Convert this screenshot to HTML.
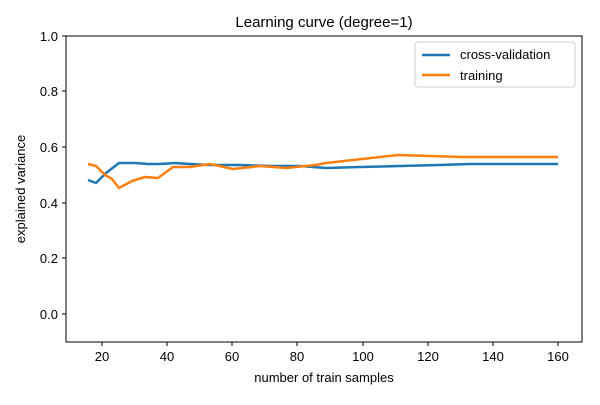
<!DOCTYPE html>
<html><head><style>body{margin:0;background:#fff}</style></head><body>
<svg width="600" height="400" xmlns="http://www.w3.org/2000/svg" font-family="Liberation Sans, DejaVu Sans, sans-serif">
<rect width="600" height="400" fill="#fff"/>
<text x="324" y="27" font-size="15" text-anchor="middle">Learning curve (degree=1)</text>
<g fill="none" stroke-width="2.5" stroke-linejoin="round">
<polyline stroke="#1f77b4" points="88,180 96,183 106,173 119,163 136,163 148,164 160,164 175,163 190,164 210,165 240,165 270,166 300,166 326,168 360,167 400,166 440,165 470,164 520,164 558,164"/>
<polyline stroke="#ff7f0e" points="88,164 96,166 105,175 112,179 119,188 132,181 145,177 158,178 173,167 190,167 210,164 233,169 260,166 286,168 316,165 326,163 362,159 398,155 430,156 463,157 510,157 558,157"/>
</g>
<rect x="66" y="36" width="516" height="306" fill="none" stroke="#000" stroke-width="1"/>
<g stroke="#000" stroke-width="1">
<line x1="102" y1="342" x2="102" y2="346"/><line x1="167" y1="342" x2="167" y2="346"/><line x1="232" y1="342" x2="232" y2="346"/><line x1="297" y1="342" x2="297" y2="346"/><line x1="363" y1="342" x2="363" y2="346"/><line x1="428" y1="342" x2="428" y2="346"/><line x1="493" y1="342" x2="493" y2="346"/><line x1="558" y1="342" x2="558" y2="346"/>
<line x1="62" y1="314" x2="66" y2="314"/><line x1="62" y1="258" x2="66" y2="258"/><line x1="62" y1="203" x2="66" y2="203"/><line x1="62" y1="147" x2="66" y2="147"/><line x1="62" y1="91" x2="66" y2="91"/><line x1="62" y1="36" x2="66" y2="36"/>
</g>
<g font-size="13" text-anchor="middle">
<text x="102" y="361">20</text><text x="167" y="361">40</text><text x="232" y="361">60</text><text x="297" y="361">80</text><text x="363" y="361">100</text><text x="428" y="361">120</text><text x="493" y="361">140</text><text x="558" y="361">160</text>
</g>
<g font-size="13" text-anchor="end">
<text x="58" y="319">0.0</text><text x="58" y="263">0.2</text><text x="58" y="208">0.4</text><text x="58" y="152">0.6</text><text x="58" y="96">0.8</text><text x="58" y="41">1.0</text>
</g>
<text x="324" y="382" font-size="13" text-anchor="middle">number of train samples</text>
<text transform="translate(25,189) rotate(-90)" font-size="13" text-anchor="middle">explained variance</text>
<rect x="415" y="42" width="160" height="45" rx="3" fill="#fff" stroke="#ccc"/>
<line x1="422" y1="55" x2="450" y2="55" stroke="#1f77b4" stroke-width="2.5"/>
<line x1="422" y1="75" x2="450" y2="75" stroke="#ff7f0e" stroke-width="2.5"/>
<text x="460" y="59" font-size="13">cross-validation</text>
<text x="460" y="80" font-size="13">training</text>
</svg>
</body></html>
